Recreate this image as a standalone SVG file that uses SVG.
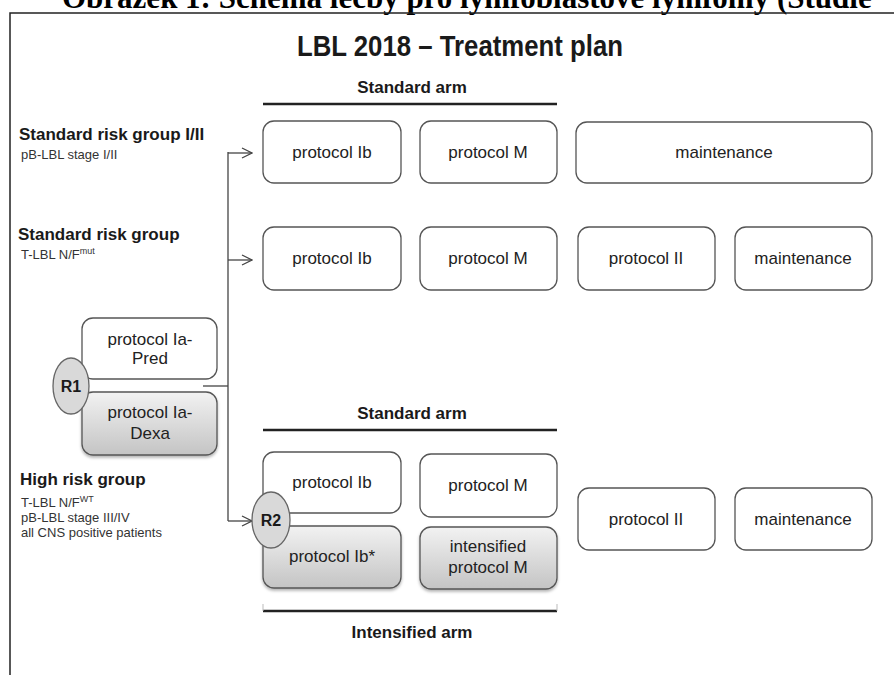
<svg xmlns="http://www.w3.org/2000/svg" width="894" height="675" viewBox="0 0 894 675">
<style>
.box{fill:#fff;stroke:#555;stroke-width:1.3}
.gbox{fill:url(#gg);stroke:#555;stroke-width:1.3;filter:url(#sh)}
.t{font-family:"Liberation Sans",Arial,sans-serif;font-size:17px;fill:#222;text-anchor:middle}
.b{font-family:"Liberation Sans",Arial,sans-serif;font-weight:bold;fill:#1a1a1a}
.s{font-family:"Liberation Sans",Arial,sans-serif;font-size:13px;fill:#333}
.ell{fill:#d9d9d9;stroke:#666;stroke-width:1.3}
.con{fill:none;stroke:#444;stroke-width:1.3}
.bar{stroke:#222;stroke-width:2.5}
.tick{stroke:#bbb;stroke-width:1}
</style>
<defs>
<linearGradient id="gg" x1="0" y1="0" x2="0" y2="1">
<stop offset="0" stop-color="#f2f2f2"/>
<stop offset="1" stop-color="#c4c4c4"/>
</linearGradient>
<filter id="sh" x="-10%" y="-10%" width="120%" height="130%">
<feDropShadow dx="0" dy="2" stdDeviation="1.5" flood-color="#000" flood-opacity="0.3"/>
</filter>
<marker id="ar" viewBox="0 0 12 12" refX="11" refY="6" markerWidth="12" markerHeight="12" markerUnits="userSpaceOnUse" orient="auto">
<path d="M1,1 L11,6 L1,11" fill="none" stroke="#444" stroke-width="1.3"/>
</marker>
</defs>
<rect width="894" height="675" fill="#fff"/>
<text x="62" y="8" font-family="'Liberation Serif','Times New Roman',serif" font-weight="bold" font-size="31" fill="#000">Obrázek 1: Schéma léčby pro lymfoblastové lymfomy (Studie</text>
<rect x="10" y="13" width="900" height="700" fill="none" stroke="#222" stroke-width="1.5"/>
<text x="460" y="56" class="b" font-size="30" text-anchor="middle" textLength="326" lengthAdjust="spacingAndGlyphs">LBL 2018 – Treatment plan</text>

<g id="labels">
<text x="19" y="140" class="b" font-size="17">Standard risk group I/II</text>
<text x="21" y="159" class="s">pB-LBL stage I/II</text>
<text x="18" y="240" class="b" font-size="17">Standard risk group</text>
<text x="21" y="259" class="s">T-LBL N/F<tspan font-size="9" dy="-5">mut</tspan></text>
<text x="20" y="485" class="b" font-size="17">High risk group</text>
<text x="21" y="507" class="s">T-LBL N/F<tspan font-size="9" dy="-5">WT</tspan></text>
<text x="21" y="522" class="s">pB-LBL stage III/IV</text>
<text x="21" y="537" class="s">all CNS positive patients</text>
</g>

<g id="arms">
<text x="412" y="93" class="b" font-size="17" text-anchor="middle">Standard arm</text>
<line x1="263" y1="104" x2="557" y2="104" class="bar"/>
<text x="412" y="419" class="b" font-size="17" text-anchor="middle">Standard arm</text>
<line x1="263" y1="430" x2="557" y2="430" class="bar"/>
<line x1="263" y1="611" x2="557" y2="611" class="bar"/>
<line x1="263" y1="604" x2="263" y2="611" class="tick"/>
<line x1="557" y1="604" x2="557" y2="611" class="tick"/>
<text x="412" y="638" class="b" font-size="17" text-anchor="middle">Intensified arm</text>
</g>

<g id="connectors">
<line x1="203" y1="386" x2="228" y2="386" class="con"/>
<line x1="228" y1="152" x2="228" y2="521" class="con"/>
<line x1="228" y1="153" x2="252" y2="153" class="con" marker-end="url(#ar)"/>
<line x1="228" y1="260" x2="252" y2="260" class="con" marker-end="url(#ar)"/>
<line x1="228" y1="521" x2="252" y2="521" class="con" marker-end="url(#ar)"/>
</g>

<g id="n-r1-pred"><rect x="82" y="318" width="135" height="61" rx="11" class="box"/><text x="150" y="345" class="t">protocol Ia-</text><text x="150" y="364" class="t">Pred</text></g>
<g id="n-r1-dexa"><rect x="82" y="392" width="135" height="63" rx="11" class="gbox"/><text x="150" y="418" class="t">protocol Ia-</text><text x="150" y="439" class="t">Dexa</text></g>
<g id="n-r1"><ellipse cx="71" cy="386" rx="18" ry="28" class="ell"/><text x="71" y="392" class="b" font-size="16" text-anchor="middle">R1</text></g>

<g id="n-1-ib"><rect x="263" y="121" width="138" height="62" rx="11" class="box"/><text x="332" y="158" class="t">protocol Ib</text></g>
<g id="n-1-m"><rect x="420" y="121" width="137" height="62" rx="11" class="box"/><text x="488" y="158" class="t">protocol M</text></g>
<g id="n-1-maint"><rect x="576" y="122" width="296" height="61" rx="11" class="box"/><text x="724" y="158" class="t">maintenance</text></g>

<g id="n-2-ib"><rect x="263" y="227" width="138" height="63" rx="11" class="box"/><text x="332" y="264" class="t">protocol Ib</text></g>
<g id="n-2-m"><rect x="420" y="227" width="137" height="63" rx="11" class="box"/><text x="488" y="264" class="t">protocol M</text></g>
<g id="n-2-ii"><rect x="578" y="227" width="137" height="63" rx="11" class="box"/><text x="646" y="264" class="t">protocol II</text></g>
<g id="n-2-maint"><rect x="735" y="227" width="137" height="63" rx="11" class="box"/><text x="803" y="264" class="t">maintenance</text></g>

<g id="n-3-ib"><rect x="263" y="452" width="138" height="61" rx="11" class="box"/><text x="332" y="488" class="t">protocol Ib</text></g>
<g id="n-3-m"><rect x="420" y="454" width="137" height="63" rx="11" class="box"/><text x="488" y="491" class="t">protocol M</text></g>
<g id="n-3-ibs"><rect x="263" y="526" width="138" height="62" rx="11" class="gbox"/><text x="332" y="562" class="t">protocol Ib*</text></g>
<g id="n-3-im"><rect x="420" y="527" width="137" height="62" rx="11" class="gbox"/><text x="488" y="552" class="t">intensified</text><text x="488" y="573" class="t">protocol M</text></g>
<g id="n-r2"><ellipse cx="271" cy="520" rx="19" ry="28" class="ell"/><text x="271" y="526" class="b" font-size="16" text-anchor="middle">R2</text></g>
<g id="n-3-ii"><rect x="578" y="488" width="137" height="62" rx="11" class="box"/><text x="646" y="525" class="t">protocol II</text></g>
<g id="n-3-maint"><rect x="735" y="488" width="137" height="62" rx="11" class="box"/><text x="803" y="525" class="t">maintenance</text></g>
</svg>
